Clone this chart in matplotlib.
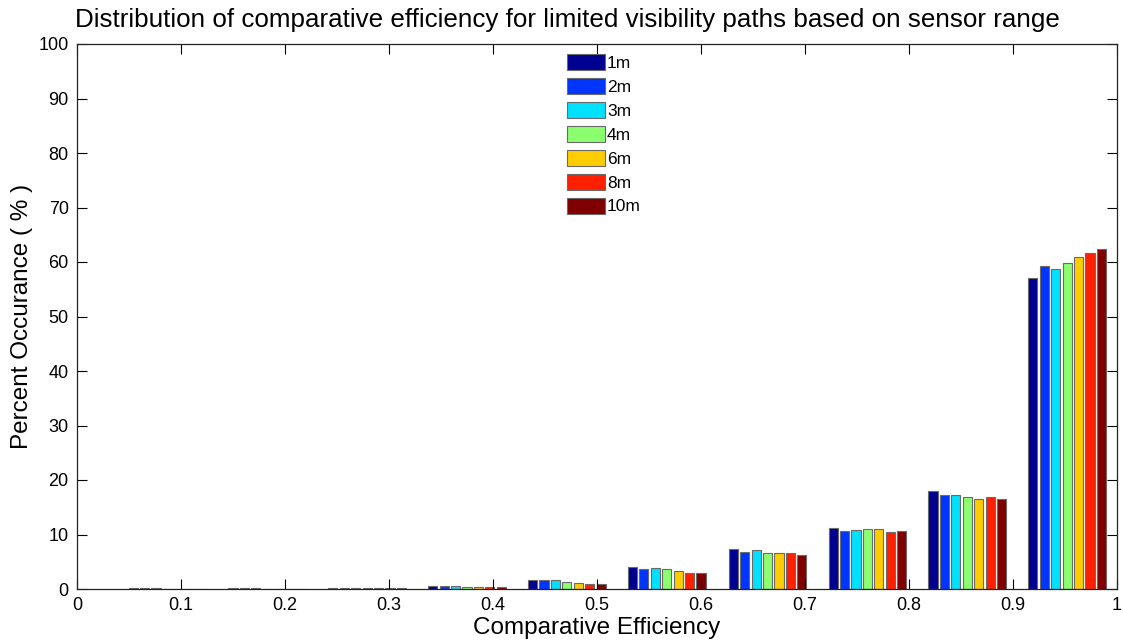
import matplotlib
matplotlib.use("Agg")
import matplotlib.pyplot as plt
import numpy as np

plt.rcParams['font.family'] = ['Liberation Sans', 'DejaVu Sans']

# bin centres (comparative efficiency)
bin_centers = [0.087, 0.183, 0.279, 0.375, 0.471, 0.567, 0.664, 0.760, 0.856, 0.952]
ranges = ['1m', '2m', '3m', '4m', '6m', '8m', '10m']
colors = ['#000090', '#0035FF', '#00E0FF', '#8CFF70', '#FFCC00', '#FF2000', '#800000']

# percent occurrence per range (one list per sensor range, over the bins)
pct_1m  = [0.10, 0.10, 0.25, 0.55, 1.6, 4.0, 7.3, 11.2, 18.0, 57.1]
pct_2m  = [0.10, 0.10, 0.25, 0.55, 1.6, 3.7, 6.8, 10.7, 17.2, 59.3]
pct_3m  = [0.10, 0.10, 0.25, 0.50, 1.6, 3.85, 7.2, 10.8, 17.2, 58.8]
pct_4m  = [0.05, 0.05, 0.20, 0.45, 1.3, 3.6, 6.6, 11.1, 16.8, 59.9]
pct_6m  = [0.05, 0.05, 0.20, 0.40, 1.1, 3.3, 6.6, 10.95, 16.5, 60.9]
pct_8m  = [0.02, 0.05, 0.20, 0.40, 1.0, 3.0, 6.6, 10.5, 16.8, 61.7]
pct_10m = [0.02, 0.02, 0.15, 0.35, 1.0, 2.9, 6.2, 10.7, 16.6, 62.3]
series = [pct_1m, pct_2m, pct_3m, pct_4m, pct_6m, pct_8m, pct_10m]

xtick_vals = [0, 0.1, 0.2, 0.3, 0.4, 0.5, 0.6, 0.7, 0.8, 0.9, 1.0]
xtick_labels = ['0', '0.1', '0.2', '0.3', '0.4', '0.5', '0.6', '0.7', '0.8', '0.9', '1']
ytick_vals = list(range(0, 101, 10))

fig = plt.figure(figsize=(11.23, 6.41), dpi=100)
ax = fig.add_axes([77/1123, 1 - 589/641, (1117 - 77)/1123, (589 - 44)/641])

centers = np.array(bin_centers)
spacing = 0.0962
n = len(series)
group_w = spacing * min(0.8, n / (n + 1.5))
pitch = group_w / n
bar_w = pitch * 0.8
for i, (vals, c, lab) in enumerate(zip(series, colors, ranges)):
    offs = -group_w / 2 + pitch * (i + 0.5)
    ax.bar(centers + offs, vals, width=bar_w, color=c, edgecolor='#6a6a6a',
           linewidth=0.8, label=lab)

ax.set_xlim(0, 1)
ax.set_ylim(0, 100)
ax.set_xticks(xtick_vals)
ax.set_xticklabels(xtick_labels)
ax.set_yticks(ytick_vals)
ax.tick_params(direction='in', length=7, width=0.8, top=True, right=True,
               labelsize=13, colors='black', pad=6)
for s in ax.spines.values():
    s.set_linewidth(0.9)
    s.set_color('#222222')

fig.text(567/1123, 1 - 20/641,
         'Distribution of comparative efficiency for limited visibility paths based on sensor range',
         fontsize=18.7, ha='center', va='center')
ax.set_xlabel('Comparative Efficiency', fontsize=17.5, labelpad=2)
ax.set_ylabel('Percent Occurance ( % )', fontsize=17.5, labelpad=4)

leg = fig.legend(loc='upper left', bbox_to_anchor=(567/1123, 1 - 54/641),
                 frameon=False, fontsize=12.5, handlelength=2.18, handleheight=1.05,
                 labelspacing=0.4, handletextpad=0.12, borderpad=0, borderaxespad=0)

fig.savefig('out.png', dpi=100)
